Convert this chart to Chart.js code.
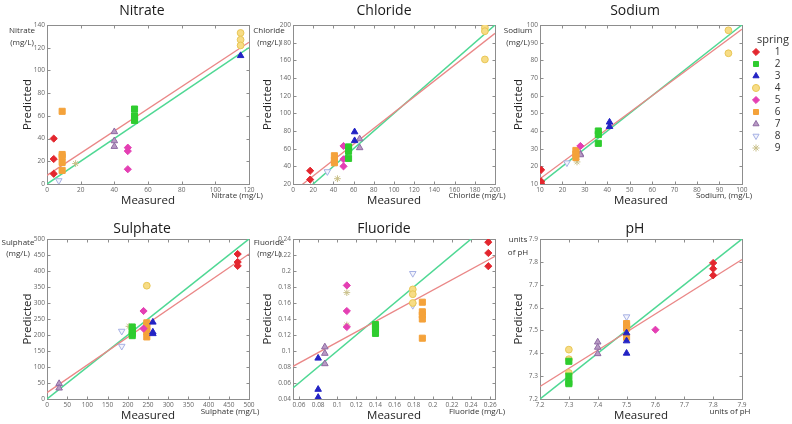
<!DOCTYPE html>
<html><head><meta charset="utf-8">
<script src="https://cdn.jsdelivr.net/npm/chart.js@4/dist/chart.umd.min.js"></script>
<style>
html,body{margin:0;padding:0;background:#fff;}
#wrap{position:relative;width:792px;height:424px;overflow:hidden;background:#fff;}
canvas{position:absolute;}
</style></head><body><div id="wrap">
<canvas id="c0" width="268" height="212" style="left:0px;top:0px"></canvas>
<canvas id="c1" width="256" height="212" style="left:250px;top:0px"></canvas>
<canvas id="c2" width="294" height="212" style="left:498px;top:0px"></canvas>
<canvas id="c3" width="268" height="212" style="left:0px;top:212px"></canvas>
<canvas id="c4" width="256" height="212" style="left:250px;top:212px"></canvas>
<canvas id="c5" width="294" height="212" style="left:498px;top:212px"></canvas>
</div>
<script>
// ---------- DATA ----------
const springLabels = ['1','2','3','4','5','6','7','8','9'];

// Nitrate
const nitrateSpring    = [1,1,1, 2,2,2,2, 3, 4,4,4, 5,5,5, 6,6,6,6,6, 7,7,7, 8, 9];
const nitrateMeasured  = [4,4,4, 52,52,52,52, 115, 115,115,115, 48,48,48, 9,9,9,9,9, 40,40,40, 7, 17];
const nitratePredicted = [40,22,9, 66,60,58,56, 113, 133,127,122, 32,29,13, 64,26,24,19,12, 46,38,33, 3, 18];
const nitrateLineX = [0,120], nitrateRedY = [7.6,124.8], nitrateGreenY = [0,120];
const nitrateXTicks = [0,20,40,60,80,100,120];
const nitrateYTicks = [0,20,40,60,80,100,120,140];

// Chloride
const chlorideSpring    = [1,1, 2,2,2,2, 3,3, 4,4,4, 5,5,5, 6,6,6, 7,7, 8, 9];
const chlorideMeasured  = [17,17, 55,55,55,55, 61,61, 190,190,190, 50,50,50, 41,41,41, 66,66, 34, 44];
const chloridePredicted = [35,25, 62,60,57,49, 79,69, 197,193,161, 63,48,40, 52,47,44, 71,61, 34, 26];
const chlorideLineX = [0,200], chlorideRedY = [11.2,190.6], chlorideGreenY = [0,200];
const chlorideXTicks = [0,20,40,60,80,100,120,140,160,180,200];
const chlorideYTicks = [20,40,60,80,100,120,140,160,180,200];

// Sodium
const sodiumSpring    = [1,1,1, 2,2,2, 3,3, 4,4, 5, 6,6,6, 7,7, 8, 9];
const sodiumMeasured  = [10.5,10.5,10.5, 36,36,36, 41,41, 94,94, 28, 26,26,26, 28,28, 22, 26.5];
const sodiumPredicted = [18,11.5,10.5, 40,38,33, 45,42.5, 97,84, 31.5, 29,27,25, 27,26.5, 22, 22.5];
const sodiumLineX = [10,100], sodiumRedY = [13,97.6], sodiumGreenY = [10,100];
const sodiumXTicks = [10,20,30,40,50,60,70,80,90,100];
const sodiumYTicks = [10,20,30,40,50,60,70,80,90,100];

// Sulphate
const sulphateSpring    = [1,1,1, 2,2,2,2, 3,3,3, 4, 5,5, 6,6,6,6,6, 7,7, 8,8, 9];
const sulphateMeasured  = [472,472,472, 211,211,211,211, 262,262,262, 247, 239,239, 247,247,247,247,247, 30,30, 185,185, 203];
const sulphatePredicted = [453,428,416, 225,215,205,198, 240,209,204, 354, 275,220, 238,228,218,210,194, 48,34, 212,165, 227];
const sulphateLineX = [0,500], sulphateRedY = [20,453], sulphateGreenY = [0,500];
const sulphateXTicks = [0,50,100,150,200,250,300,350,400,450,500];
const sulphateYTicks = [0,50,100,150,200,250,300,350,400,450,500];

// Fluoride
const fluorideSpring    = [1,1,1, 2,2,2,2, 3,3,3, 4,4,4, 5,5,5, 6,6,6,6,6, 7,7,7, 8,8, 9,9];
const fluorideMeasured  = [0.258,0.258,0.258, 0.14,0.14,0.14,0.14, 0.08,0.08,0.08, 0.179,0.179,0.179, 0.11,0.11,0.11, 0.189,0.189,0.189,0.189,0.189, 0.087,0.087,0.087, 0.179,0.179, 0.11,0.11];
const fluoridePredicted = [0.236,0.2225,0.206, 0.133,0.13,0.127,0.122, 0.091,0.052,0.042, 0.177,0.171,0.16, 0.182,0.15,0.13, 0.161,0.149,0.145,0.14,0.116, 0.105,0.097,0.084, 0.197,0.157, 0.173,0.1325];
const fluorideLineX = [0.0537,0.265], fluorideRedY = [0.0808,0.2183], fluorideGreenY = [0.0537,0.265];
const fluorideXTicks = [0.06,0.08,0.1,0.12,0.14,0.16,0.18,0.2,0.22,0.24,0.26];
const fluorideYTicks = [0.04,0.06,0.08,0.1,0.12,0.14,0.16,0.18,0.2,0.22,0.24];

// pH
const phSpring    = [1,1,1, 2,2,2,2, 3,3,3, 4,4,4, 5, 6,6,6,6, 7,7,7, 8];
const phMeasured  = [7.8,7.8,7.8, 7.3,7.3,7.3,7.3, 7.5,7.5,7.5, 7.3,7.3,7.3, 7.6, 7.5,7.5,7.5,7.5, 7.4,7.4,7.4, 7.5];
const phPredicted = [7.795,7.77,7.741, 7.365,7.3,7.273,7.267, 7.489,7.454,7.4, 7.416,7.374,7.314, 7.503, 7.53,7.52,7.51,7.47, 7.449,7.426,7.398, 7.56];
const phLineX = [7.2,7.9], phRedY = [7.255,7.81], phGreenY = [7.2,7.9];
const phXTicks = [7.2,7.3,7.4,7.5,7.6,7.7,7.8,7.9];
const phYTicks = [7.2,7.3,7.4,7.5,7.6,7.7,7.8,7.9];

// ---------- STYLE ----------
const family = '"Open Sans", sans-serif';
const springStyle = [
  {style:'rectRot',  r:3.6, bg:'#e3262e', bd:'#e3262e'},
  {style:'rect',     r:4.3, bg:'#2fcc2f', bd:'#2fcc2f'},
  {style:'triangle', r:3.8, bg:'#2323c4', bd:'#2323c4'},
  {style:'circle',   r:3.4, bg:'#f7dc85', bd:'#e8c656'},
  {style:'rectRot',  r:3.6, bg:'#e43fb3', bd:'#e43fb3'},
  {style:'rect',     r:4.3, bg:'#f4a23a', bd:'#f4a23a'},
  {style:'triangle', r:3.8, bg:'#b89ac4', bd:'#8e6aa3'},
  {style:'triangle', r:3.8, bg:'#f3f4fc', bd:'#a6b0e4', rot:180},
  {style:'star',     r:3.4, bg:'#ddd6ae', bd:'#c9c08a'}
];

function buildDatasets(spring, meas, pred, lineX, redY, greenY) {
  const ds = springLabels.map((lab, i) => ({
    label: lab,
    data: meas.map((m, k) => ({x: m, y: pred[k], s: spring[k]})).filter(p => p.s === i + 1),
    pointStyle: springStyle[i].style,
    rotation: springStyle[i].rot || 0,
    pointRotation: springStyle[i].rot || 0,
    pointRadius: springStyle[i].r,
    backgroundColor: springStyle[i].bg,
    borderColor: springStyle[i].bd,
    borderWidth: 1,
    showLine: false
  }));
  ds.push({label: 'fit', data: lineX.map((x, k) => ({x, y: redY[k]})), showLine: true,
    borderColor: '#ea8787', backgroundColor: '#ea8787', borderWidth: 1.3, pointRadius: 0, tension: 0});
  ds.push({label: 'one', data: lineX.map((x, k) => ({x, y: greenY[k]})), showLine: true,
    borderColor: '#4fd894', backgroundColor: '#4fd894', borderWidth: 1.5, pointRadius: 0, tension: 0});
  return ds;
}

const fmt = v => String(+Number(v).toFixed(3));

const decor = {
  id: 'decor',
  afterLayout(chart, args, o) {
    const lg = chart.legend;
    if (!o.legendBox || !lg) return;
    lg.left = o.legendBox.left;
    lg.width = o.legendBox.width;
    lg.right = lg.left + lg.width;
  },
  beforeDatasetsDraw(chart) {
    const {ctx, chartArea: a} = chart;
    const xs = chart.scales.x, ys = chart.scales.y;
    ctx.save();
    ctx.strokeStyle = '#8d8d8d'; ctx.lineWidth = 1;
    const L = Math.round(a.left) + 0.5, R = Math.round(a.right) + 0.5, T = Math.round(a.top) + 0.5, B = Math.round(a.bottom) + 0.5;
    ctx.strokeRect(L, T, R - L, B - T);
    ctx.beginPath();
    xs.ticks.forEach(t => { const p = Math.round(xs.getPixelForValue(t.value)) + 0.5;
      ctx.moveTo(p, B); ctx.lineTo(p, B - 3); ctx.moveTo(p, T); ctx.lineTo(p, T + 3); });
    ys.ticks.forEach(t => { const p = Math.round(ys.getPixelForValue(t.value)) + 0.5;
      ctx.moveTo(L, p); ctx.lineTo(L + 3, p); ctx.moveTo(R, p); ctx.lineTo(R - 3, p); });
    ctx.stroke();
    ctx.restore();
  },
  afterDraw(chart, args, o) {
    const ctx = chart.ctx;
    ctx.save();
    ctx.fillStyle = '#1a1a1a';
    ctx.textAlign = 'center';
    ctx.textBaseline = 'alphabetic';
    ctx.font = '14px ' + family;
    ctx.fillText(o.title, o.titleX, o.titleY);
    ctx.font = '8px ' + family;
    ctx.fillStyle = '#333';
    ctx.textBaseline = 'middle';
    o.unitTop.forEach((s, i) => ctx.fillText(s, o.unitTopX, o.unitTopY[i]));
    ctx.fillText(o.unitBottom, o.unitBottomX, o.unitBottomY);
    ctx.restore();
  }
};

function makeChart(id, cfg) {
  const legendOn = !!cfg.legend;
  new Chart(document.getElementById(id), {
    type: 'scatter',
    data: {datasets: buildDatasets(cfg.spring, cfg.meas, cfg.pred, cfg.lineX, cfg.redY, cfg.greenY)},
    plugins: [decor],
    options: {
      responsive: false, animation: false, events: [],
      layout: {padding: {left: 0, top: cfg.padTop, right: cfg.padRight, bottom: 0}},
      scales: {
        x: {type: 'linear', min: cfg.xMin, max: cfg.xMax,
          afterBuildTicks: s => { s.ticks = cfg.xTicks.map(v => ({value: v})); },
          afterFit: s => { s.height = cfg.xH; },
          grid: {display: false, drawTicks: false}, border: {display: false},
          ticks: {font: {size: 6.5, family}, color: '#666', padding: 2, maxRotation: 0, autoSkip: false, callback: fmt},
          title: {display: true, text: 'Measured', font: {size: 11.5, family}, color: '#222', padding: {top: 0, bottom: cfg.xTitlePad}}
        },
        y: {type: 'linear', min: cfg.yMin, max: cfg.yMax,
          afterBuildTicks: s => { s.ticks = cfg.yTicks.map(v => ({value: v})); },
          afterFit: s => { s.width = cfg.yW; },
          grid: {display: false, drawTicks: false}, border: {display: false},
          ticks: {font: {size: 6.5, family}, color: '#666', padding: 2, autoSkip: false, callback: fmt},
          title: {display: true, text: 'Predicted', font: {size: 11.5, family}, color: '#222', padding: {top: cfg.yTitlePad, bottom: 0}}
        }
      },
      plugins: {
        tooltip: {enabled: false},
        legend: legendOn ? {
          display: true, position: 'right', align: 'start',
          labels: {usePointStyle: true, boxWidth: 10, boxHeight: 5, padding: 2, textAlign: 'center',
            font: {size: 10, family}, color: '#333', filter: it => it.datasetIndex < 9},
          title: {display: true, text: 'spring', position: 'end', color: '#333',
            font: {size: 11, family, lineHeight: 1}, padding: {top: 9, bottom: 0}}
        } : {display: false},
        decor: cfg.decor
      }
    }
  });
}

const row0 = {padTop: 25, xH: 28, xTitlePad: 4};
const row1 = {padTop: 27, xH: 25, xTitlePad: 1.7};
const col0 = {yW: 47, padRight: 19, yTitlePad: 20.4};
const col1 = {yW: 43, padRight: 11, yTitlePad: 10.9};
const col2 = {yW: 42, padRight: 50, yTitlePad: 13.4};

makeChart('c0', Object.assign({}, row0, col0, {
  spring: nitrateSpring, meas: nitrateMeasured, pred: nitratePredicted,
  lineX: nitrateLineX, redY: nitrateRedY, greenY: nitrateGreenY,
  xMin: 0, xMax: 120, yMin: 0, yMax: 140, xTicks: nitrateXTicks, yTicks: nitrateYTicks,
  decor: {title: 'Nitrate', titleX: 142, titleY: 15, unitTop: ['Nitrate', '(mg/L)'], unitTopX: 22, unitTopY: [31, 43],
    unitBottom: 'Nitrate (mg/L)', unitBottomX: 237, unitBottomY: 196}
}));
makeChart('c1', Object.assign({}, row0, col1, {
  spring: chlorideSpring, meas: chlorideMeasured, pred: chloridePredicted,
  lineX: chlorideLineX, redY: chlorideRedY, greenY: chlorideGreenY,
  xMin: 0, xMax: 200, yMin: 20, yMax: 200, xTicks: chlorideXTicks, yTicks: chlorideYTicks,
  decor: {title: 'Chloride', titleX: 134, titleY: 15, unitTop: ['Chloride', '(mg/L)'], unitTopX: 19, unitTopY: [31, 43],
    unitBottom: 'Chloride (mg/L)', unitBottomX: 227, unitBottomY: 196}
}));
makeChart('c2', Object.assign({}, row0, col2, {padRight: 17.4, legend: true,
  spring: sodiumSpring, meas: sodiumMeasured, pred: sodiumPredicted,
  lineX: sodiumLineX, redY: sodiumRedY, greenY: sodiumGreenY,
  xMin: 10, xMax: 100, yMin: 10, yMax: 100, xTicks: sodiumXTicks, yTicks: sodiumYTicks,
  decor: {title: 'Sodium', titleX: 137, titleY: 15, unitTop: ['Sodium', '(mg/L)'], unitTopX: 20, unitTopY: [31, 43],
    unitBottom: 'Sodium, (mg/L)', unitBottomX: 226, unitBottomY: 196,
    legendBox: {left: 251, width: 40}}
}));
makeChart('c3', Object.assign({}, row1, col0, {
  spring: sulphateSpring, meas: sulphateMeasured, pred: sulphatePredicted,
  lineX: sulphateLineX, redY: sulphateRedY, greenY: sulphateGreenY,
  xMin: 0, xMax: 500, yMin: 0, yMax: 500, xTicks: sulphateXTicks, yTicks: sulphateYTicks,
  decor: {title: 'Sulphate', titleX: 142, titleY: 20.7, unitTop: ['Sulphate', '(mg/L)'], unitTopX: 18, unitTopY: [31, 42],
    unitBottom: 'Sulphate (mg/L)', unitBottomX: 230, unitBottomY: 200}
}));
makeChart('c4', Object.assign({}, row1, col1, {
  spring: fluorideSpring, meas: fluorideMeasured, pred: fluoridePredicted,
  lineX: fluorideLineX, redY: fluorideRedY, greenY: fluorideGreenY,
  xMin: 0.0537, xMax: 0.265, yMin: 0.04, yMax: 0.24, xTicks: fluorideXTicks, yTicks: fluorideYTicks,
  decor: {title: 'Fluoride', titleX: 134, titleY: 20.7, unitTop: ['Fluoride', '(mg/L)'], unitTopX: 19, unitTopY: [31, 42],
    unitBottom: 'Fluoride (mg/L)', unitBottomX: 227, unitBottomY: 200}
}));
makeChart('c5', Object.assign({}, row1, col2, {
  spring: phSpring, meas: phMeasured, pred: phPredicted,
  lineX: phLineX, redY: phRedY, greenY: phGreenY,
  xMin: 7.2, xMax: 7.9, yMin: 7.2, yMax: 7.9, xTicks: phXTicks, yTicks: phYTicks,
  decor: {title: 'pH', titleX: 137, titleY: 20.7, unitTop: ['units', 'of pH'], unitTopX: 20, unitTopY: [28, 41],
    unitBottom: 'units of pH', unitBottomX: 232, unitBottomY: 200}
}));
</script>
</body></html>
